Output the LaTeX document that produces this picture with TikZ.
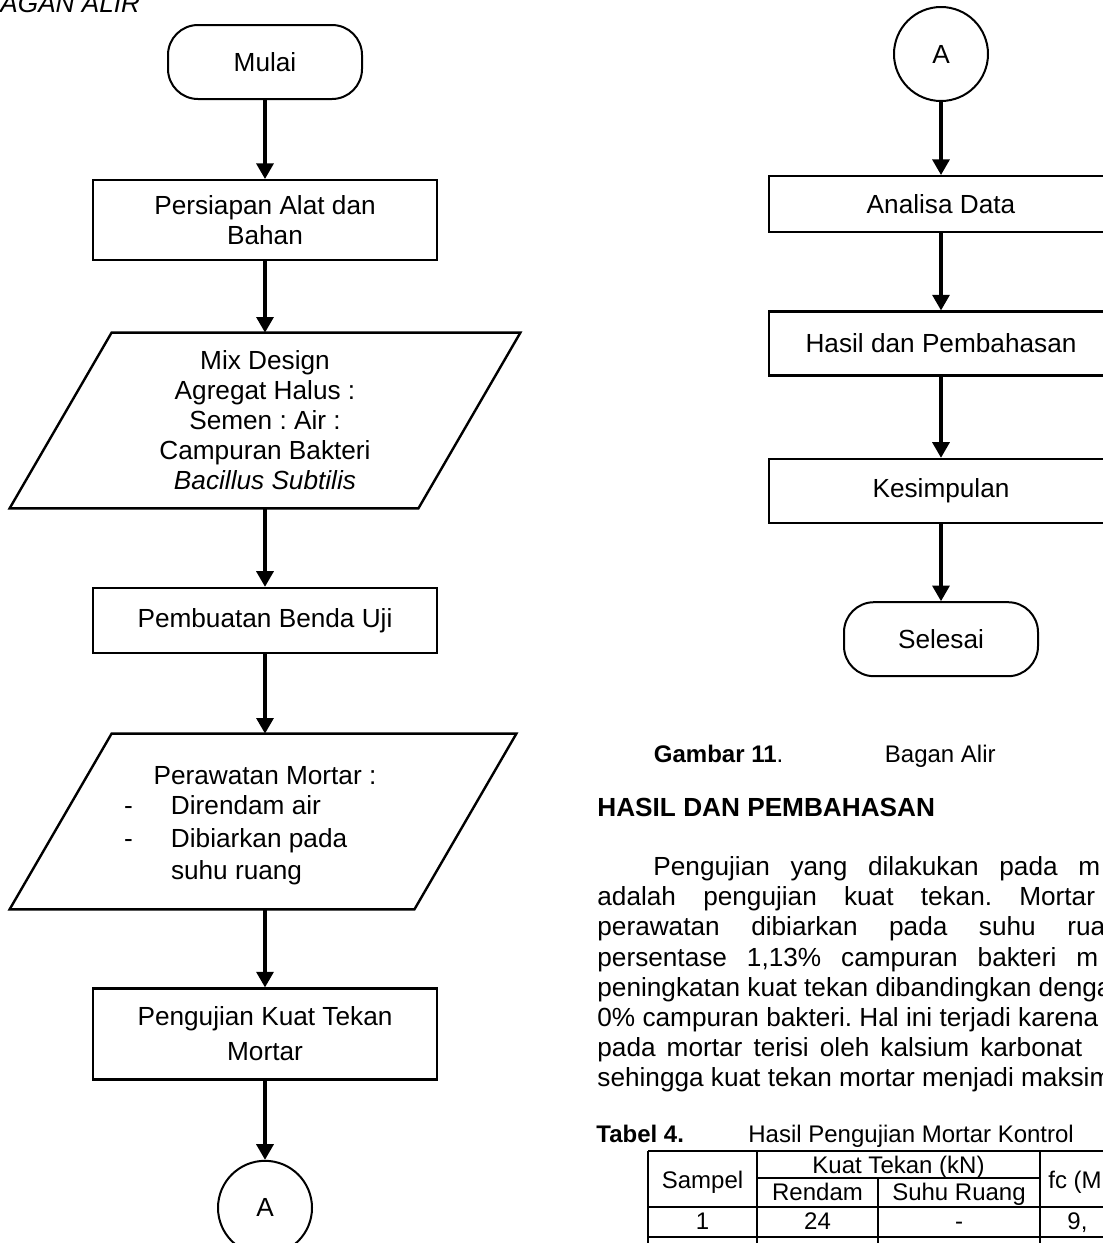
\documentclass[tikz,border=0pt]{standalone}
\usepackage{fontspec}
\setmainfont{Liberation Sans}
\usetikzlibrary{positioning, arrows.meta}
\frenchspacing

\newcommand\chartfont{\fontsize{13.1pt}{15pt}\selectfont}
\newcommand\capfont{\fontsize{12pt}{14pt}\selectfont}
\newcommand\listline[2]{\makebox[141pt][l]{\makebox[23.5pt][l]{#1}#2}}
\newcommand\justline[3]{\makebox[#1][s]{#2 \mbox{}}#3}

\tikzset{
  terminal/.style={draw, line width=1pt, rounded corners=15pt, minimum width=97pt, minimum height=37pt, inner sep=0pt, font=\chartfont},
  process/.style={draw, line width=1.2pt, minimum width=172pt, inner sep=0pt, align=center, font=\chartfont},
  io/.style={minimum width=255pt, minimum height=87.5pt, inner sep=0pt, align=center, font=\chartfont},
  ioline/.style={line width=1.2pt, line join=miter},
  conn/.style={draw, circle, line width=1pt, minimum size=47pt, inner sep=0pt, font=\chartfont},
  flow/.style={line width=1.6pt, -{Triangle[width=8.5pt,length=7.8pt]}},
  txt/.style={anchor=base west, inner sep=0pt, font=\chartfont},
  cell/.style={anchor=base, inner sep=0pt, font=\capfont},
  tabrule/.style={line width=1pt},
  tabcol/.style={line width=0.6pt},
}

\begin{document}
\begin{tikzpicture}[x=0.5pt, y=-0.5pt]
\useasboundingbox (0,0) rectangle (1103,1243);
\fill[white] (0,0) rectangle (1103,1243);
\clip (0,0) rectangle (1103,1243);

% kolom kiri
\node[txt, font=\chartfont\itshape] (judul) at (0,12) {AGAN ALIR};
\node[terminal] (mulai) at (265,62) {Mulai};
\node[process, minimum height=40pt, below=39.5pt of mulai] (alat) {Persiapan Alat dan\\ Bahan};
\node[io] (mix) at (265,420.5) {Mix Design\\ Agregat Halus :\\ Semen : Air :\\ Campuran Bakteri\\ \textit{Bacillus Subtilis}};
\node[process, minimum height=32.5pt] (benda) at (265,620.5) {Pembuatan Benda Uji};
\node[io] (rawat) at (265,821.5) {};
\node[io, minimum size=0pt] (rawatisi) at (265,825.5) {Perawatan Mortar :\\ \listline{-}{Direndam air}\\[1.5pt] \listline{-}{Dibiarkan pada}\\[1pt] \listline{}{suhu ruang}};
\node[process, minimum height=45.5pt, below=39pt of rawat] (uji) {Pengujian Kuat Tekan\\[2.5pt] Mortar};
\node[conn, below=39.5pt of uji] (ka) {A};
\draw[ioline] ([xshift=51pt]mix.north west) -- (mix.north east) -- ([xshift=-51pt]mix.south east) -- (mix.south west) -- cycle;
\draw[ioline] ([xshift=51pt]rawat.north west) -- ([xshift=-2pt]rawat.north east) -- ([xshift=-53pt]rawat.south east) -- (rawat.south west) -- cycle;

% kolom kanan
\node[conn] (kb) at (941,54) {A};
\node[process, minimum height=28pt, below=36.5pt of kb] (analisa) {Analisa Data};
\node[process, minimum height=32pt, below=38.5pt of analisa] (bahas) {Hasil dan Pembahasan};
\node[process, minimum height=32pt, below=40.5pt of bahas] (simpul) {Kesimpulan};
\node[terminal, below=38.5pt of simpul] (selesai) {Selesai};

\draw[flow] (mulai) -- (alat);
\draw[flow] (alat) -- (mix);
\draw[flow] (mix) -- (benda);
\draw[flow] (benda) -- (rawat);
\draw[flow] (rawat) -- (uji);
\draw[flow] (uji) -- (ka);
\draw[flow] (kb) -- (analisa);
\draw[flow] (analisa) -- (bahas);
\draw[flow] (bahas) -- (simpul);
\draw[flow] (simpul) -- (selesai);

% teks halaman
\node[txt, font=\capfont] (gambar) at (653.5,762) {\textbf{Gambar 11}.};
\node[txt, font=\capfont] (bagan) at (884.5,762) {Bagan Alir};
\node[txt, font=\chartfont\bfseries] (bab) at (597,816) {HASIL DAN PEMBAHASAN};
\node[txt] (p1) at (653,875) {\justline{212.5pt}{Pengujian yang dilakukan pada}{m}};
\node[txt] (p2) at (597,905) {\justline{211pt}{adalah pengujian kuat tekan.}{Mortar}};
\node[txt] (p3) at (597,935) {\justline{235pt}{perawatan dibiarkan pada suhu}{rua}};
\node[txt] (p4) at (597,966) {\justline{239.5pt}{persentase 1,13\% campuran bakteri}{m}};
\node[txt] (p5) at (597,996) {peningkatan kuat tekan dibandingkan denga};
\node[txt] (p6) at (597,1026) {0\% campuran bakteri. Hal ini terjadi karena};
\node[txt] (p7) at (597,1056) {\justline{191.5pt}{pada mortar terisi oleh kalsium}{karbonat}};
\node[txt] (p8) at (597,1086) {sehingga kuat tekan mortar menjadi maksim};

% tabel
\node[txt, font=\capfont\bfseries] (tabel) at (596,1142) {Tabel 4.};
\node[txt, font=\capfont] (judultabel) at (748,1142) {Hasil Pengujian Mortar Kontrol};
\draw[tabrule] (648,1151) -- (1110,1151);
\draw[tabrule] (757,1178) -- (1040,1178);
\draw[tabrule] (648,1207) -- (1110,1207);
\draw[tabrule] (648,1237) -- (1110,1237);
\draw[tabcol] (648,1151) -- (648,1250);
\draw[tabcol] (757,1151) -- (757,1250);
\draw[tabcol] (878,1178) -- (878,1250);
\draw[tabcol] (1040,1151) -- (1040,1250);
\node[cell] (sampel) at (702.5,1188.6) {Sampel};
\node[cell] (kuat) at (898.5,1173.6) {Kuat Tekan (kN)};
\node[cell] (rendam) at (817.5,1200.6) {Rendam};
\node[cell] (suhu) at (959,1200.6) {Suhu Ruang};
\node[cell, anchor=base west] (fc) at (1048,1188.6) {fc (M};
\node[cell] (s1) at (702.5,1229) {1};
\node[cell] (r1) at (817.5,1229) {24};
\node[cell] (u1) at (959,1229) {-};
\node[cell, anchor=base west] (f1) at (1067,1229) {9,};
\end{tikzpicture}
\end{document}
